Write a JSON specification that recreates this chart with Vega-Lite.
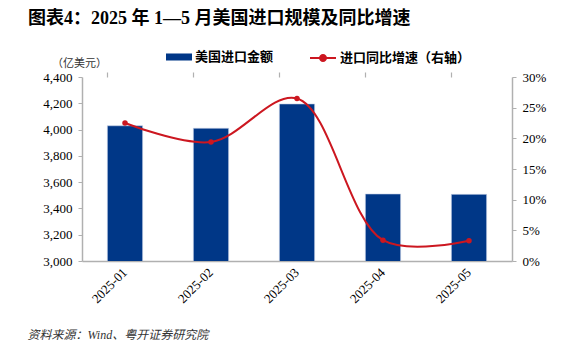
{
  "$schema": "https://vega.github.io/schema/vega-lite/v6.json",
  "width": 430,
  "height": 184,
  "autosize": {"type": "none"},
  "padding": {"left": 82, "top": 77, "right": 64, "bottom": 90},
  "background": "white",
  "title": {
    "text": "图表4：2025 年 1—5 月美国进口规模及同比增速",
    "anchor": "start",
    "frame": "group",
    "orient": "top",
    "dx": -54,
    "offset": 16,
    "font": "Liberation Serif, Noto Sans CJK SC",
    "fontSize": 18,
    "fontWeight": "bold",
    "color": "#000000"
  },
  "data": {
    "values": [
      {"month": "2025-01", "imp": 4029, "yoy": 22.5, "s1": "美国进口金额", "s2": "进口同比增速（右轴）"},
      {"month": "2025-02", "imp": 4010, "yoy": 19.4, "s1": "美国进口金额", "s2": "进口同比增速（右轴）"},
      {"month": "2025-03", "imp": 4195, "yoy": 26.5, "s1": "美国进口金额", "s2": "进口同比增速（右轴）"},
      {"month": "2025-04", "imp": 3510, "yoy": 3.4, "s1": "美国进口金额", "s2": "进口同比增速（右轴）"},
      {"month": "2025-05", "imp": 3507, "yoy": 3.3, "s1": "美国进口金额", "s2": "进口同比增速（右轴）"}
    ]
  },
  "layer": [
    {
      "mark": {"type": "bar", "stroke": "#c9d3e8", "strokeWidth": 0.6, "clip": true},
      "encoding": {
        "x": {
          "field": "month",
          "type": "ordinal",
          "scale": {"paddingInner": 0.59, "paddingOuter": 0.295},
          "axis": {
            "title": "资料来源：Wind、粤开证券研究院",
            "titleX": -55,
            "titleY": 73,
            "titleAnchor": "start",
            "titleAlign": "left",
            "titleBaseline": "middle",
            "titleFont": "Liberation Serif, Noto Sans CJK SC",
            "titleFontStyle": "italic",
            "titleFontWeight": "normal",
            "titleFontSize": 12,
            "titleColor": "#333333",
            "labelAngle": -45,
            "labelAlign": "right",
            "labelBaseline": "middle",
            "labelPadding": 9,
            "labelFont": "Liberation Serif",
            "labelFontSize": 13,
            "labelColor": "#000000",
            "labelOverlap": false,
            "ticks": false,
            "domainColor": "#b0b0b0",
            "domainWidth": 1.5
          }
        },
        "y": {
          "field": "imp",
          "type": "quantitative",
          "scale": {"domain": [3000, 4400], "zero": false, "nice": false},
          "axis": {
            "values": [3000, 3200, 3400, 3600, 3800, 4000, 4200, 4400],
            "format": ",.0f",
            "labelOverlap": false,
            "grid": false,
            "title": "（亿美元）",
            "titleAngle": 0,
            "titleX": -3,
            "titleY": -14,
            "titleAlign": "center",
            "titleBaseline": "middle",
            "titleFont": "Noto Sans CJK SC",
            "titleFontSize": 11,
            "titleFontWeight": "normal",
            "titleColor": "#333333",
            "labelFont": "Liberation Serif",
            "labelFontSize": 13,
            "labelColor": "#000000",
            "labelPadding": 6,
            "tickSize": 4,
            "tickColor": "#b0b0b0",
            "domainColor": "#b0b0b0",
            "domainWidth": 1.5
          }
        },
        "fill": {
          "field": "s1",
          "type": "nominal",
          "scale": {"range": ["#003787"]},
          "legend": {
            "title": null,
            "orient": "none",
            "legendX": 84,
            "legendY": -33,
            "symbolType": "M-1,-0.27H1V0.27H-1Z",
            "symbolSize": 676,
            "symbolStrokeWidth": 0,
            "labelFont": "Noto Sans CJK SC",
            "labelFontSize": 13,
            "labelFontWeight": "bold",
            "labelColor": "#000000",
            "labelOffset": 3
          }
        }
      }
    },
    {
      "encoding": {
        "x": {
          "field": "month",
          "type": "ordinal",
          "axis": {
            "title": null,
            "labels": false,
            "domain": false,
            "ticks": true,
            "bandPosition": 0,
            "tickSize": 5,
            "tickColor": "#b0b0b0",
            "tickWidth": 1.2
          }
        },
        "y": {
          "field": "yoy",
          "type": "quantitative",
          "scale": {"domain": [0, 30], "nice": false},
          "axis": {
            "orient": "right",
            "values": [0, 5, 10, 15, 20, 25, 30],
            "labelExpr": "datum.value + '%'",
            "labelOverlap": false,
            "grid": false,
            "title": null,
            "labelFont": "Liberation Serif",
            "labelFontSize": 13,
            "labelColor": "#000000",
            "labelPadding": 6,
            "tickSize": 4,
            "tickColor": "#b0b0b0",
            "domainColor": "#b0b0b0",
            "domainWidth": 1.5
          }
        }
      },
      "layer": [
        {
          "mark": {"type": "line", "interpolate": "catmull-rom", "strokeWidth": 2},
          "encoding": {
            "stroke": {
              "field": "s2",
              "type": "nominal",
              "scale": {"range": ["#cc1720"]},
              "legend": {
                "title": null,
                "orient": "none",
                "legendX": 227,
                "legendY": -33,
                "symbolType": "M-1,0H1M-0.23,0A0.23,0.23,0,1,0,0.23,0A0.23,0.23,0,1,0,-0.23,0Z",
                "symbolSize": 676,
                "symbolStrokeWidth": 2,
                "symbolFillColor": "#cc1720",
                "labelFont": "Noto Sans CJK SC",
                "labelFontSize": 13,
                "labelFontWeight": "bold",
                "labelColor": "#000000",
                "labelOffset": 3
              }
            }
          }
        },
        {
          "mark": {"type": "point", "filled": true, "size": 30, "color": "#cc1720", "opacity": 1}
        }
      ]
    }
  ],
  "resolve": {"scale": {"y": "independent"}, "axis": {"x": "independent"}},
  "config": {
    "view": {"stroke": null}
  }
}
